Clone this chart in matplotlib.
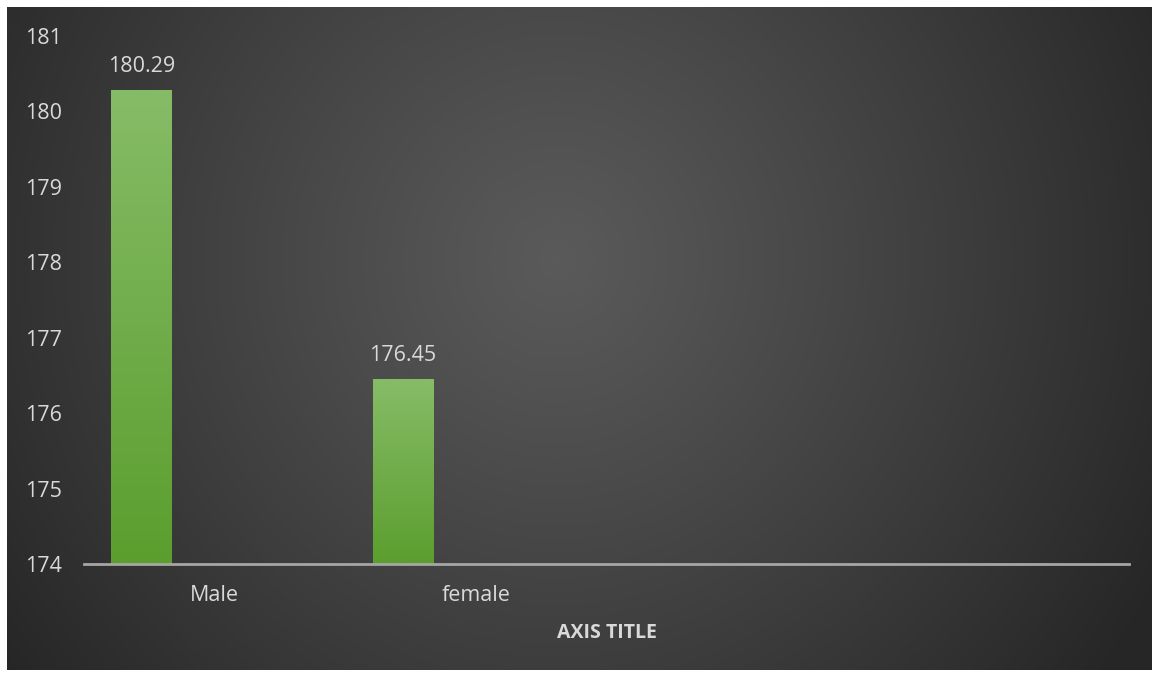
import numpy as np
import matplotlib
matplotlib.use("Agg")
from matplotlib import pyplot as plt
from matplotlib.colors import LinearSegmentedColormap

# datos del grafico
categorias = ["Male", "female", "", ""]
alturas = [180.29, 176.45]
y_min, y_max = 174, 181
y_ticks = [174, 175, 176, 177, 178, 179, 180, 181]
titulo_x = "AXIS TITLE"

W, H = 1157, 675
fig = plt.figure(figsize=(W / 100, H / 100), dpi=100)
fig.patch.set_facecolor("white")

# fondo oscuro con degradado radial
bg = fig.add_axes([7 / W, 5 / H, (W - 12) / W, (H - 12) / H])
bg.set_axis_off()
ny, nx = 400, 700
yy, xx = np.mgrid[0:ny, 0:nx]
cx, cy = 0.48 * nx, 0.38 * ny
r = np.sqrt(((xx - cx) / (0.6 * nx)) ** 2 + ((yy - cy) / (0.6 * nx)) ** 2)
r = np.clip(r, 0, 1) ** 1.1
cmap_bg = LinearSegmentedColormap.from_list("bg", ["#5a5a5a", "#262626"])
bg.imshow(r, cmap=cmap_bg, aspect="auto", extent=[0, 1, 0, 1], origin="upper")
bg.set_xlim(0, 1)
bg.set_ylim(0, 1)

ax = fig.add_axes([84 / W, (H - 564) / H, (1129 - 84) / W, (564 - 36) / H])
ax.patch.set_alpha(0)

x = np.arange(len(categorias))
ancho = 0.23
desplaz = -0.28
xb = x[:len(alturas)] + desplaz

cmap_bar = LinearSegmentedColormap.from_list("verde", ["#5b9e2e", "#86bc67"])
grad = np.linspace(0, 1, 256).reshape(-1, 1)

barras = ax.bar(xb, np.array(alturas) - y_min, bottom=y_min, width=ancho,
                color="#70ad47", linewidth=0, zorder=2)
for b, v in zip(barras, alturas):
    x0 = b.get_x()
    im = ax.imshow(grad, cmap=cmap_bar, aspect="auto", origin="lower",
                   extent=[x0, x0 + ancho, y_min, v], zorder=3)
    im.set_clip_path(b)
    ax.text(b.get_x() + ancho / 2, v + 0.17, f"{v:.2f}", ha="center", va="bottom",
            color="#d9d9d9", fontsize=15.5, family="Open Sans")

ax.set_xlim(-0.5, len(categorias) - 0.5)
ax.set_ylim(y_min, y_max)
ax.set_yticks(y_ticks)
ax.set_yticklabels([str(t) for t in y_ticks], color="#d9d9d9", fontsize=15.5,
                   family="Open Sans")
ax.set_xticks(x)
ax.set_xticklabels(categorias, color="#d9d9d9", fontsize=15.5, family="Open Sans")
ax.tick_params(axis="y", length=0, pad=16)
ax.tick_params(axis="x", length=0, pad=15)

for s in ["top", "right", "left"]:
    ax.spines[s].set_visible(False)
ax.spines["bottom"].set_color("#a6a6a6")
ax.spines["bottom"].set_linewidth(2)
ax.spines["bottom"].set_zorder(4)

ax.set_xlabel(titulo_x, color="#d9d9d9", fontsize=14, fontweight="bold",
              family="Open Sans", labelpad=12)

fig.savefig("out.png", dpi=100, facecolor=fig.get_facecolor())
